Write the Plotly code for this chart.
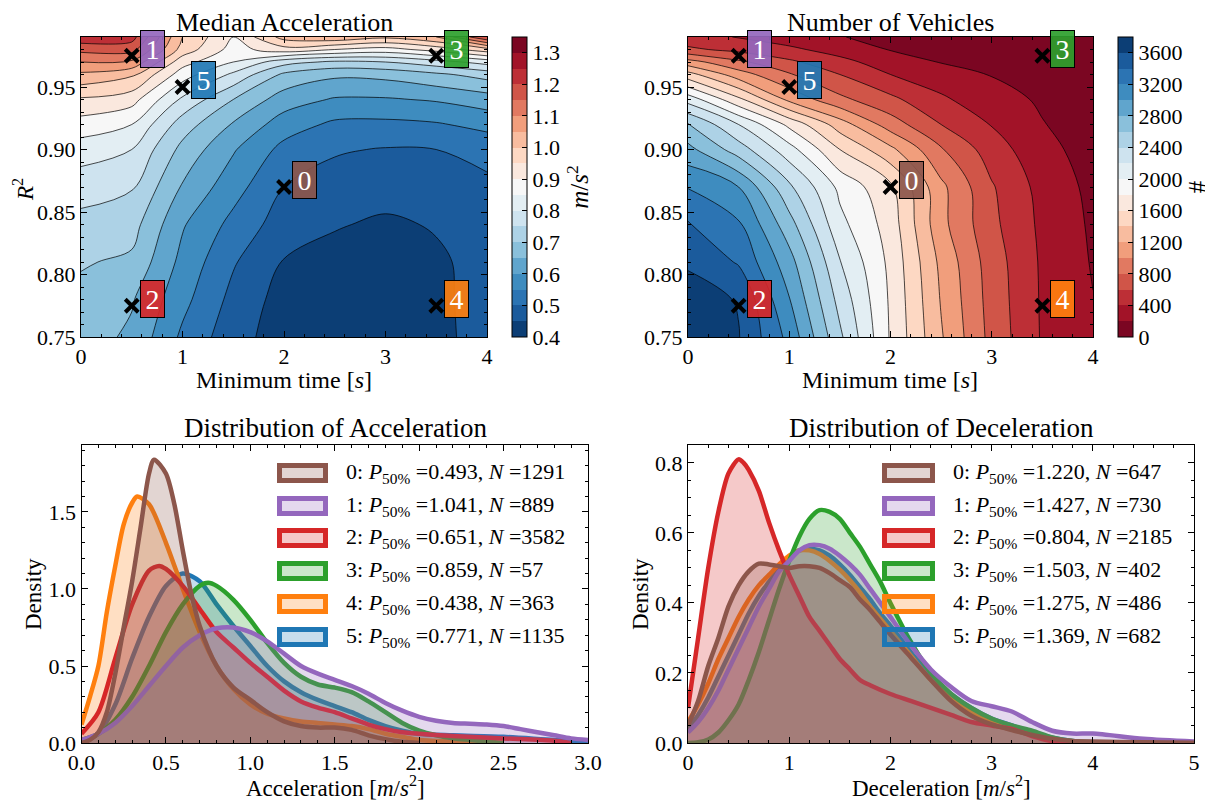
import plotly.graph_objects as go

# ------------------------------------------------------------------ data
grid_x = [0, 0.5, 1, 1.5, 2, 2.5, 3, 3.5, 4]
grid_y = [0.75, 0.78, 0.81, 0.84, 0.87, 0.90, 0.92, 0.94, 0.96, 0.97, 0.98, 0.99]

median_acc = [
    [0.675, 0.640, 0.540, 0.470, 0.425, 0.415, 0.412, 0.440, 0.465],
    [0.685, 0.655, 0.565, 0.485, 0.430, 0.418, 0.415, 0.440, 0.468],
    [0.705, 0.690, 0.585, 0.505, 0.447, 0.428, 0.420, 0.440, 0.472],
    [0.735, 0.720, 0.605, 0.535, 0.475, 0.455, 0.440, 0.455, 0.480],
    [0.770, 0.755, 0.645, 0.570, 0.500, 0.480, 0.475, 0.478, 0.490],
    [0.825, 0.800, 0.685, 0.605, 0.535, 0.505, 0.497, 0.500, 0.515],
    [0.878, 0.850, 0.725, 0.645, 0.575, 0.540, 0.538, 0.545, 0.565],
    [0.943, 0.920, 0.790, 0.700, 0.625, 0.595, 0.595, 0.605, 0.625],
    [1.040, 1.010, 0.875, 0.790, 0.690, 0.660, 0.665, 0.690, 0.720],
    [1.100, 1.090, 0.920, 0.850, 0.770, 0.740, 0.750, 0.780, 0.820],
    [1.165, 1.170, 0.980, 0.880, 0.930, 0.900, 0.880, 0.920, 0.980],
    [1.235, 1.220, 1.000, 0.900, 1.020, 1.040, 1.010, 1.050, 1.200],
]

num_vehicles = [
    [3780, 3610, 3140, 2440, 1780, 1220, 735, 380, 230],
    [3700, 3585, 3010, 2330, 1770, 1185, 718, 375, 205],
    [3570, 3380, 2880, 2210, 1750, 1150, 700, 370, 185],
    [3420, 3230, 2680, 2060, 1710, 1060, 650, 355, 170],
    [3190, 3000, 2440, 1950, 1640, 1050, 620, 330, 150],
    [2860, 2500, 2080, 1600, 1250, 820, 500, 260, 120],
    [2620, 2200, 1750, 1300, 900, 600, 390, 210, 95],
    [2120, 1650, 1150, 850, 650, 430, 290, 170, 80],
    [1480, 1090, 820, 600, 400, 300, 190, 115, 55],
    [1080, 840, 640, 460, 300, 190, 130, 75, 40],
    [640, 540, 440, 320, 190, 140, 90, 50, 28],
    [470, 390, 300, 210, 130, 95, 60, 35, 20],
]

point_ids = ["0", "1", "2", "3", "4", "5"]
point_x = [2.0, 0.5, 0.5, 3.5, 3.5, 1.0]
point_y = [0.87, 0.975, 0.775, 0.975, 0.775, 0.95]
series_colors = ["#8c564b", "#9467bd", "#d62728", "#2ca02c", "#ff7f0e", "#1f77b4"]

# acceleration densities
acc_x_0 = [0, 0.05, 0.1, 0.15, 0.2, 0.25, 0.3, 0.35, 0.4, 0.43, 0.5, 0.55, 0.6, 0.65, 0.7, 0.8, 0.9,
           1.0, 1.1, 1.2, 1.3, 1.4, 1.5, 1.6, 1.7, 1.8, 1.9, 2.0]
acc_y_0 = [0.0, 0.02, 0.07, 0.2, 0.45, 0.75, 1.05, 1.4, 1.75, 1.84, 1.75, 1.55, 1.25, 0.97, 0.76, 0.5, 0.36,
           0.28, 0.2, 0.14, 0.11, 0.1, 0.1, 0.085, 0.05, 0.025, 0.008, 0.0]
acc_x_1 = [0, 0.1, 0.2, 0.3, 0.4, 0.5, 0.6, 0.7, 0.8, 0.9, 1.0, 1.1, 1.2, 1.3, 1.4, 1.5, 1.6, 1.7, 1.8,
           1.9, 2.0, 2.1, 2.2, 2.3, 2.4, 2.5, 2.6, 2.7, 2.8, 2.9, 3.0]
acc_y_1 = [0.02, 0.06, 0.13, 0.24, 0.37, 0.5, 0.62, 0.7, 0.745, 0.75, 0.72, 0.66, 0.58, 0.5, 0.45, 0.41,
           0.37, 0.32, 0.26, 0.21, 0.17, 0.145, 0.13, 0.125, 0.12, 0.11, 0.09, 0.07, 0.05, 0.03, 0.02]
acc_x_2 = [0, 0.1, 0.2, 0.3, 0.4, 0.46, 0.5, 0.6, 0.7, 0.8, 0.9, 1.0, 1.1, 1.2, 1.3, 1.4, 1.5, 1.6, 1.7,
           1.8, 1.9, 2.0, 2.2, 2.5, 2.8, 2.9]
acc_y_2 = [0.06, 0.2, 0.55, 0.9, 1.12, 1.15, 1.13, 1.02, 0.87, 0.72, 0.62, 0.52, 0.43, 0.34, 0.27, 0.23,
           0.2, 0.16, 0.12, 0.09, 0.07, 0.06, 0.045, 0.03, 0.015, 0.0]
acc_x_3 = [0, 0.1, 0.2, 0.3, 0.4, 0.5, 0.6, 0.7, 0.75, 0.8, 0.9, 1.0, 1.1, 1.2, 1.3, 1.4, 1.5, 1.6, 1.7,
           1.8, 1.9, 2.0, 2.1, 2.2, 2.4, 2.5]
acc_y_3 = [0.02, 0.06, 0.15, 0.3, 0.5, 0.72, 0.9, 1.02, 1.04, 1.02, 0.93, 0.8, 0.65, 0.52, 0.43, 0.38,
           0.36, 0.33, 0.27, 0.2, 0.13, 0.08, 0.05, 0.03, 0.01, 0.0]
acc_x_4 = [0, 0.05, 0.1, 0.15, 0.2, 0.25, 0.3, 0.33, 0.4, 0.5, 0.6, 0.7, 0.8, 0.9, 1.0, 1.1, 1.2, 1.3,
           1.4, 1.5, 1.6, 1.7, 1.8, 1.9, 2.0, 2.2, 2.5]
acc_y_4 = [0.12, 0.3, 0.5, 0.85, 1.15, 1.42, 1.56, 1.6, 1.55, 1.3, 1.0, 0.72, 0.5, 0.35, 0.25, 0.19, 0.16,
           0.14, 0.13, 0.12, 0.11, 0.09, 0.06, 0.04, 0.02, 0.01, 0.0]
acc_x_5 = [0, 0.1, 0.2, 0.3, 0.4, 0.5, 0.6, 0.7, 0.8, 0.9, 1.0, 1.1, 1.2, 1.3, 1.4, 1.5, 1.6, 1.7, 1.8,
           1.9, 2.0, 2.2, 2.5, 2.8, 3.0]
acc_y_5 = [0.01, 0.06, 0.25, 0.55, 0.82, 1.02, 1.1, 1.05, 0.9, 0.76, 0.63, 0.5, 0.4, 0.33, 0.28, 0.24,
           0.2, 0.15, 0.11, 0.08, 0.06, 0.05, 0.04, 0.02, 0.01]

# deceleration densities (shared x grid)
dec_x = [0, 0.1, 0.2, 0.3, 0.4, 0.5, 0.6, 0.7, 0.8, 0.9, 1.0, 1.1, 1.2, 1.3, 1.4, 1.5, 1.6, 1.7, 1.8, 1.9,
         2.0, 2.2, 2.4, 2.6, 2.8, 3.0, 3.2, 3.4, 3.6, 3.8, 4.0, 4.5, 5.0]
dec_y_0 = [0.05, 0.12, 0.22, 0.3, 0.39, 0.45, 0.49, 0.512, 0.51, 0.505, 0.5, 0.505, 0.505, 0.5, 0.485,
           0.465, 0.445, 0.41, 0.38, 0.345, 0.31, 0.245, 0.18, 0.12, 0.078, 0.053, 0.037, 0.023, 0.012,
           0.006, 0.004, 0.002, 0.001]
dec_y_1 = [0.03, 0.06, 0.1, 0.15, 0.21, 0.27, 0.33, 0.39, 0.44, 0.49, 0.52, 0.55, 0.565, 0.565, 0.555,
           0.535, 0.51, 0.48, 0.44, 0.4, 0.36, 0.28, 0.21, 0.16, 0.12, 0.105, 0.09, 0.06, 0.035, 0.027,
           0.027, 0.012, 0.004]
dec_y_3 = [0.0, 0.002, 0.01, 0.03, 0.065, 0.11, 0.18, 0.26, 0.35, 0.44, 0.52, 0.59, 0.64, 0.665, 0.66,
           0.64, 0.6, 0.56, 0.51, 0.46, 0.4, 0.29, 0.2, 0.14, 0.1, 0.07, 0.05, 0.035, 0.016, 0.006, 0.002,
           0.0, 0.0]
dec_y_4 = [0.06, 0.11, 0.17, 0.24, 0.3, 0.36, 0.41, 0.45, 0.48, 0.51, 0.535, 0.55, 0.55, 0.54, 0.52,
           0.495, 0.465, 0.43, 0.39, 0.355, 0.32, 0.25, 0.18, 0.13, 0.09, 0.06, 0.04, 0.025, 0.012, 0.005,
           0.002, 0.0, 0.0]
dec_y_5 = [0.04, 0.08, 0.13, 0.19, 0.25, 0.31, 0.37, 0.42, 0.46, 0.5, 0.53, 0.55, 0.555, 0.55, 0.535,
           0.51, 0.48, 0.445, 0.41, 0.37, 0.335, 0.26, 0.19, 0.14, 0.1, 0.07, 0.05, 0.03, 0.015, 0.006,
           0.002, 0.0, 0.0]
dec_x_2 = [0, 0.1, 0.2, 0.3, 0.4, 0.5, 0.55, 0.6, 0.7, 0.8, 0.9, 1.0, 1.1, 1.2, 1.3, 1.4, 1.5, 1.6, 1.7,
           1.8, 2.0, 2.2, 2.4, 2.6, 2.8, 3.0, 3.2, 3.4, 3.6, 3.8]
dec_y_2 = [0.1, 0.3, 0.5, 0.66, 0.77, 0.81, 0.8, 0.78, 0.72, 0.63, 0.55, 0.48, 0.42, 0.36, 0.32, 0.28,
           0.24, 0.21, 0.18, 0.165, 0.14, 0.12, 0.1, 0.08, 0.06, 0.05, 0.04, 0.02, 0.005, 0.0]

acc_p50 = ["0.493", "1.041", "0.651", "0.859", "0.438", "0.771"]
acc_n = [1291, 889, 3582, 57, 363, 1135]
dec_p50 = ["1.220", "1.427", "0.804", "1.503", "1.275", "1.369"]
dec_n = [647, 730, 2185, 402, 486, 682]

# ------------------------------------------------------------------ style helpers
# the page body adds an 8 px margin top/left, so the figure starts 8 px in from the window
# edge and is sized to reach the window's right and bottom edges
OFF = 8
W, H = 1213 - OFF, 801 - OFF
FONT = "Liberation Serif"
RDBU = ["#67001f", "#b2182b", "#d6604d", "#f4a582", "#fddbc7", "#f7f7f7",
        "#d1e5f0", "#92c5de", "#4393c3", "#2166ac", "#053061"]


def hex_rgb(h):
    return tuple(int(h[i:i + 2], 16) for i in (1, 3, 5))


def rdbu(t):
    pos = max(0.0, min(1.0, t)) * 10
    i = min(int(pos), 9)
    f = pos - i
    a, b = hex_rgb(RDBU[i]), hex_rgb(RDBU[i + 1])
    return "rgb(%d,%d,%d)" % tuple(round(a[k] + (b[k] - a[k]) * f) for k in range(3))


def rgba(h, a):
    r, g, b = hex_rgb(h)
    return "rgba(%d,%d,%d,%.2f)" % (r, g, b, a)


NB = 19
scale_acc = [[j / 18, rdbu(1 - (j + 0.5) / NB)] for j in range(NB)]
scale_veh = [[j / 18, rdbu((j + 0.5) / NB)] for j in range(NB)]


def px_x(p):
    return (p - OFF) / W


def px_y(p):
    return 1 - (p - OFF) / H


fig = go.Figure()

# ------------------------------------------------------------------ contour panels
cb_common = dict(thickness=15, thicknessmode="pixels", len=300 / H, lenmode="fraction",
                 y=px_y(187), yanchor="middle", xanchor="left", xpad=0, ypad=0,
                 outlinewidth=1, outlinecolor="black", ticks="inside", ticklen=5,
                 tickcolor="black", tickfont=dict(family=FONT, size=22, color="black"))

fig.add_trace(go.Contour(
    x=grid_x, y=grid_y, z=median_acc, xaxis="x", yaxis="y", zmin=0.4, zmax=1.35, zauto=False,
    autocontour=False, contours=dict(start=0.45, end=1.3, size=0.05, coloring="fill", showlines=False),
    colorscale=scale_acc, line=dict(width=0),
    colorbar=dict(cb_common, x=px_x(511.5), tickvals=[0.4 + 0.1 * i for i in range(10)],
                  ticktext=["%.1f" % (0.4 + 0.1 * i) for i in range(10)],
                  title=dict(text="<i>m</i>/<i>s</i><sup>2</sup>", side="right",
                             font=dict(family=FONT, size=25, color="black"))),
))
fig.add_trace(go.Contour(
    x=grid_x, y=grid_y, z=median_acc, xaxis="x", yaxis="y", showscale=False,
    autocontour=False, contours=dict(start=0.45, end=1.3, size=0.05, coloring="none", showlines=True),
    line=dict(color="black", width=0.7), hoverinfo="skip",
))
fig.add_trace(go.Contour(
    x=grid_x, y=grid_y, z=num_vehicles, xaxis="x2", yaxis="y2", zmin=0, zmax=3800, zauto=False,
    autocontour=False, contours=dict(start=200, end=3600, size=200, coloring="fill", showlines=False),
    colorscale=scale_veh, line=dict(width=0),
    colorbar=dict(cb_common, x=px_x(1118), tickvals=[400 * i for i in range(10)],
                  ticktext=[str(400 * i) for i in range(10)],
                  title=dict(text="#", side="right", font=dict(family=FONT, size=25, color="black"))),
))
fig.add_trace(go.Contour(
    x=grid_x, y=grid_y, z=num_vehicles, xaxis="x2", yaxis="y2", showscale=False,
    autocontour=False, contours=dict(start=200, end=3600, size=200, coloring="none", showlines=True),
    line=dict(color="black", width=0.7), hoverinfo="skip",
))

annotations = []
for ax, ay in (("x", "y"), ("x2", "y2")):
    fig.add_trace(go.Scatter(
        x=point_x, y=point_y, xaxis=ax, yaxis=ay, mode="markers", showlegend=False,
        marker=dict(symbol="x-thin", size=13, color="black", line=dict(width=4, color="black")),
    ))
    for pid, xx, yy, col in zip(point_ids, point_x, point_y, series_colors):
        annotations.append(dict(
            x=xx, y=yy, xref=ax, yref=ay, text=pid, showarrow=False,
            xanchor="left", yanchor="middle", xshift=8, yshift=7,
            width=21, height=34, borderpad=1, borderwidth=1, bordercolor="black",
            bgcolor=rgba(col, 0.92), font=dict(family=FONT, size=28, color="white"),
        ))

# ------------------------------------------------------------------ density panels
acc_sets = [(acc_x_0, acc_y_0), (acc_x_1, acc_y_1), (acc_x_2, acc_y_2),
            (acc_x_3, acc_y_3), (acc_x_4, acc_y_4), (acc_x_5, acc_y_5)]
dec_sets = [(dec_x, dec_y_0), (dec_x, dec_y_1), (dec_x_2, dec_y_2),
            (dec_x, dec_y_3), (dec_x, dec_y_4), (dec_x, dec_y_5)]

for sets, ax, ay in ((acc_sets, "x3", "y3"), (dec_sets, "x4", "y4")):
    for k in reversed(range(6)):
        xs, ys = sets[k]
        fig.add_trace(go.Scatter(
            x=xs, y=ys, xaxis=ax, yaxis=ay, mode="lines", showlegend=False,
            line=dict(color=series_colors[k], width=4.5, shape="spline", smoothing=0.8),
            fill="tozeroy", fillcolor=rgba(series_colors[k], 0.25),
        ))

# manual legends
shapes = []
row_cy = [473, 506, 538, 571, 604, 637]
for (px0, px1, tx, p50s, ns) in ((279.5, 325.5, 344, acc_p50, acc_n),
                                  (884.5, 932.5, 951, dec_p50, dec_n)):
    for k in range(6):
        cy = row_cy[k]
        shapes.append(dict(type="rect", xref="paper", yref="paper",
                           x0=px_x(px0), x1=px_x(px1), y0=px_y(cy + 7.5), y1=px_y(cy - 7.5),
                           line=dict(color=series_colors[k], width=5),
                           fillcolor=rgba(series_colors[k], 0.25), layer="above"))
        annotations.append(dict(
            x=px_x(tx), y=px_y(cy), xref="paper", yref="paper", xanchor="left", yanchor="middle",
            showarrow=False,
            text="%d: <i>P</i><sub>50%%</sub> =%s, <i>N</i> =%d" % (k, p50s[k], ns[k]),
            font=dict(family=FONT, size=22, color="black"),
        ))


# titles and axis labels
def label(text, x, y, size, angle=0):
    annotations.append(dict(text=text, x=px_x(x), y=px_y(y), xref="paper", yref="paper",
                            showarrow=False, xanchor="center", yanchor="middle", textangle=angle,
                            font=dict(family=FONT, size=size, color="black")))


label("Median Acceleration", 284, 23, 26)
label("Number of Vehicles", 890.5, 23, 26)
label("Distribution of Acceleration", 335, 428, 27)
label("Distribution of Deceleration", 941, 428, 27)
label("Minimum time [<i>s</i>]", 284, 380, 24)
label("Minimum time [<i>s</i>]", 890.5, 380, 24)
label("Acceleration [<i>m</i>/<i>s</i><sup>2</sup>]", 335, 786, 23)
label("Deceleration [<i>m</i>/<i>s</i><sup>2</sup>]", 941, 786, 23)
label("<i>R</i><sup>2</sup>", 23, 189, 23, -90)
label("Density", 33, 594, 23, -90)
label("Density", 640, 594, 23, -90)

# ------------------------------------------------------------------ axes
tickfont = dict(family=FONT, size=22, color="black")


def axis(domain, rng, dtick, minor_dtick, anchor, tick0=0, fmt=None):
    d = dict(domain=domain, range=rng, anchor=anchor, showline=True, linecolor="black", linewidth=1,
             mirror="ticks", ticks="inside", ticklen=6, tickwidth=1, tickcolor="black",
             tick0=tick0, dtick=dtick, showgrid=False, zeroline=False, tickfont=tickfont,
             automargin=False,
             minor=dict(ticks="inside", ticklen=3, tickcolor="black", dtick=minor_dtick, showgrid=False))
    if fmt:
        d["tickformat"] = fmt
    return d


fig.update_layout(
    width=W, height=H, margin=dict(l=0, r=0, t=0, b=0, autoexpand=False),
    paper_bgcolor="white", plot_bgcolor="white", showlegend=False,
    font=dict(family=FONT, color="black"),
    xaxis=axis([px_x(81), px_x(487)], [0, 4], 1, 0.2, "y"),
    yaxis=axis([px_y(337), px_y(37)], [0.75, 0.99], 0.05, 0.01, "x", tick0=0.75, fmt=".2f"),
    xaxis2=axis([px_x(688), px_x(1093)], [0, 4], 1, 0.2, "y2"),
    yaxis2=axis([px_y(337), px_y(37)], [0.75, 0.99], 0.05, 0.01, "x2", tick0=0.75, fmt=".2f"),
    xaxis3=axis([px_x(81.5), px_x(588)], [0, 3], 0.5, 0.1, "y3", fmt=".1f"),
    yaxis3=axis([px_y(743), px_y(445)], [0, 1.935], 0.5, 0.1, "x3", fmt=".1f"),
    xaxis4=axis([px_x(688), px_x(1194)], [0, 5], 1, 0.2, "y4"),
    yaxis4=axis([px_y(743), px_y(445)], [0, 0.851], 0.2, 0.05, "x4", fmt=".1f"),
    annotations=annotations, shapes=shapes,
)

fig.write_html("out.html")
